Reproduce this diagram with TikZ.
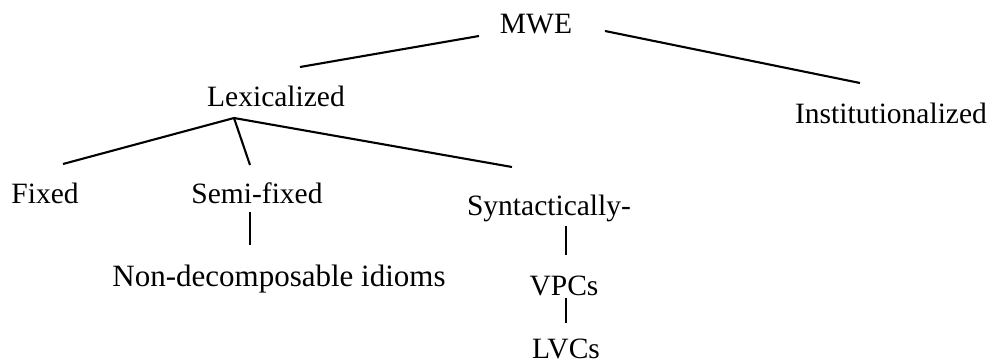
\documentclass[tikz,border=0pt]{standalone}
\usepackage{fontspec}
\setmainfont{Liberation Serif}
\begin{document}
\begin{tikzpicture}[x=1pt,y=-1pt,
  label/.style={anchor=base,inner sep=0pt,font=\fontsize{29.5}{32}\selectfont},
  biglabel/.style={label,font=\fontsize{31}{34}\selectfont},
  branch/.style={line width=2.1pt,line cap=butt}]
\useasboundingbox (0,0) rectangle (988,364);

% category labels
\node[label] (mwe)   at (536,34)  {MWE};
\node[label] (lex)   at (276,106) {Lexicalized};
\node[label] (inst)  at (891,123) {Institutionalized};
\node[label] (fixed) at (45,203)  {Fixed};
\node[label] (semi)  at (257,203) {Semi-fixed};
\node[label] (synt)  at (549,215) {Syntactically-};
\node[biglabel] (ndi) at (279,286) {Non-decomposable idioms};
\node[label] (vpc)   at (564,295) {VPCs};
\node[label] (lvc)   at (566,358) {LVCs};

% branch end points
\coordinate (mwe-l)   at (479,36);
\coordinate (mwe-r)   at (605,31);
\coordinate (lex-up)  at (300,67);
\coordinate (inst-up) at (860,83);
\coordinate (lex-dn)  at (234,118);
\coordinate (fix-up)  at (63,164);
\coordinate (semi-up) at (250,165);
\coordinate (synt-up) at (512,167);
\coordinate (semi-dn) at (250,212);
\coordinate (ndi-up)  at (250,245);
\coordinate (synt-dn) at (566,226);
\coordinate (vpc-up)  at (566,255);
\coordinate (vpc-dn)  at (566,298);
\coordinate (lvc-up)  at (566,323);

% tree branches
\draw[branch] (mwe-l) -- (lex-up);
\draw[branch] (mwe-r) -- (inst-up);
\draw[branch] (lex-dn) -- (fix-up);
\draw[branch] (lex-dn) -- (semi-up);
\draw[branch] (lex-dn) -- (synt-up);
\draw[branch] (semi-dn) -- (ndi-up);
\draw[branch] (synt-dn) -- (vpc-up);
\draw[branch] (vpc-dn) -- (lvc-up);
\end{tikzpicture}
\end{document}
